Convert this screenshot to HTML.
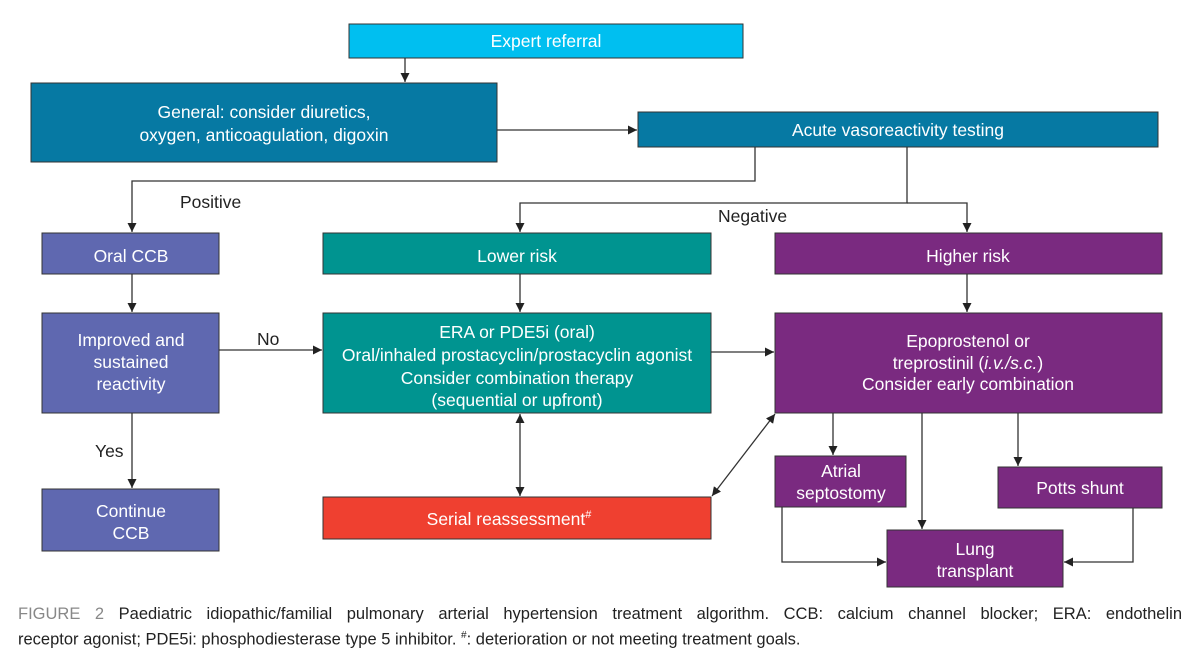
<!DOCTYPE html>
<html><head><meta charset="utf-8"><style>
html,body{margin:0;padding:0;background:#fff;width:1200px;height:671px;overflow:hidden}
svg{display:block}
text{font-family:"Liberation Sans",sans-serif;font-size:17.5px}
.w{fill:#fff;text-anchor:middle}
.k{fill:#222}
.cap{position:absolute;left:18px;top:603px;width:1164px;font-family:"Liberation Sans",sans-serif;font-size:16.5px;line-height:22px;color:#222}
.l1{display:block;text-align:justify;text-align-last:justify}
.l2{display:block}
</style></head><body>
<svg width="1200" height="671" viewBox="0 0 1200 671">
<defs><marker id="a" viewBox="0 0 10 10" refX="10" refY="5" markerWidth="9" markerHeight="9" markerUnits="userSpaceOnUse" orient="auto-start-reverse"><path d="M0,0L10,5L0,10z" fill="#222"/></marker></defs>
<g stroke="#333" stroke-width="1">
<rect x="349" y="24" width="394" height="34" fill="#00bff0"/>
<rect x="31" y="83" width="466" height="79" fill="#0679a3"/>
<rect x="638" y="112" width="520" height="35" fill="#0679a3"/>
<rect x="42" y="233" width="177" height="41" fill="#5f68b0"/>
<rect x="323" y="233" width="388" height="41" fill="#009490"/>
<rect x="775" y="233" width="387" height="41" fill="#7a2a80"/>
<rect x="42" y="313" width="177" height="100" fill="#5f68b0"/>
<rect x="323" y="313" width="388" height="100" fill="#009490"/>
<rect x="775" y="313" width="387" height="100" fill="#7a2a80"/>
<rect x="42" y="489" width="177" height="62" fill="#5f68b0"/>
<rect x="323" y="497" width="388" height="42" fill="#ef4030"/>
<rect x="775" y="456" width="131" height="51" fill="#7a2a80"/>
<rect x="998" y="467" width="164" height="41" fill="#7a2a80"/>
<rect x="887" y="530" width="176" height="57" fill="#7a2a80"/>
</g>
<g stroke="#333" stroke-width="1.3" fill="none">
<path d="M405 58V82" marker-end="url(#a)"/>
<path d="M497 130H637" marker-end="url(#a)"/>
<path d="M755 147V181H132V232" marker-end="url(#a)"/>
<path d="M907 147V203H520V232" marker-end="url(#a)"/>
<path d="M907 203H967V232" marker-end="url(#a)"/>
<path d="M132 274V312" marker-end="url(#a)"/>
<path d="M520 274V312" marker-end="url(#a)"/>
<path d="M967 274V312" marker-end="url(#a)"/>
<path d="M219 350H322" marker-end="url(#a)"/>
<path d="M711 352H774" marker-end="url(#a)"/>
<path d="M132 413V488" marker-end="url(#a)"/>
<path d="M520 414V496" marker-start="url(#a)" marker-end="url(#a)"/>
<path d="M712 496L775 414" marker-start="url(#a)" marker-end="url(#a)"/>
<path d="M833 413V455" marker-end="url(#a)"/>
<path d="M922 413V529" marker-end="url(#a)"/>
<path d="M1018 413V466" marker-end="url(#a)"/>
<path d="M782 507V562H886" marker-end="url(#a)"/>
<path d="M1133 508V562H1064" marker-end="url(#a)"/>
</g>
<text class="w" x="546" y="47">Expert referral</text>
<text class="w" x="264" y="118">General: consider diuretics,</text>
<text class="w" x="264" y="141">oxygen, anticoagulation, digoxin</text>
<text class="w" x="898" y="136">Acute vasoreactivity testing</text>
<text class="k" x="180" y="208">Positive</text>
<text class="k" x="718" y="222">Negative</text>
<text class="w" x="131" y="262">Oral CCB</text>
<text class="w" x="517" y="262">Lower risk</text>
<text class="w" x="968" y="262">Higher risk</text>
<text class="w" x="131" y="346">Improved and</text>
<text class="w" x="131" y="368">sustained</text>
<text class="w" x="131" y="390">reactivity</text>
<text class="k" x="257" y="345">No</text>
<text class="w" x="517" y="338">ERA or PDE5i (oral)</text>
<text class="w" x="517" y="361">Oral/inhaled prostacyclin/prostacyclin agonist</text>
<text class="w" x="517" y="384">Consider combination therapy</text>
<text class="w" x="517" y="406">(sequential or upfront)</text>
<text class="w" x="968" y="347">Epoprostenol or</text>
<text class="w" x="968" y="369">treprostinil (<tspan font-style="italic">i.v./s.c.</tspan>)</text>
<text class="w" x="968" y="390">Consider early combination</text>
<text class="k" x="95" y="457">Yes</text>
<text class="w" x="131" y="517">Continue</text>
<text class="w" x="131" y="539">CCB</text>
<text class="w" x="509" y="525">Serial reassessment<tspan font-size="11" dy="-7">#</tspan></text>
<text class="w" x="841" y="477">Atrial</text>
<text class="w" x="841" y="499">septostomy</text>
<text class="w" x="1080" y="494">Potts shunt</text>
<text class="w" x="975" y="555">Lung</text>
<text class="w" x="975" y="577">transplant</text>
</svg>
<div class="cap"><span class="l1"><span style="color:#888">FIGURE 2</span> Paediatric idiopathic/familial pulmonary arterial hypertension treatment algorithm. CCB: calcium channel blocker; ERA: endothelin</span><span class="l2">receptor agonist; PDE5i: phosphodiesterase type 5 inhibitor. <sup style="font-size:10px">#</sup>: deterioration or not meeting treatment goals.</span></div>
</body></html>
